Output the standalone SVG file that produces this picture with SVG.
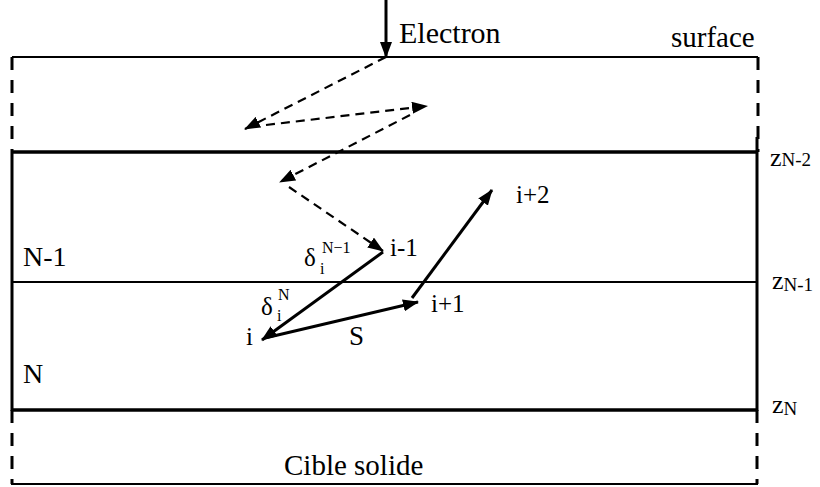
<svg xmlns="http://www.w3.org/2000/svg" width="820" height="487" viewBox="0 0 820 487">
<style>
.t{font-size:28px}
.s{font-size:25px}
.sup{font-size:16px}
.frame{fill:none;stroke:#000;stroke-linecap:butt}
.dash{stroke-dasharray:13 10}
.arr{fill:none;stroke:#000;stroke-width:3}
.darr{fill:none;stroke:#000;stroke-width:2.2;stroke-dasharray:9 6}
</style>
<defs>
<marker id="ah" markerUnits="userSpaceOnUse" markerWidth="16" markerHeight="12" refX="15" refY="6" orient="auto">
<path d="M0,0 L16,6 L0,12 z" fill="#000"/>
</marker>
</defs>
<rect width="820" height="487" fill="#fff"/>
<g id="layers">
<line class="frame" x1="12" y1="57" x2="758" y2="57" stroke-width="2"/>
<path class="frame dash" d="M12,57 V152" stroke-width="3"/>
<path class="frame dash" d="M758,57 V152" stroke-width="3"/>
<line class="frame" x1="11" y1="152" x2="758" y2="152" stroke-width="3.5"/>
<line class="frame" x1="12" y1="152" x2="12" y2="411" stroke-width="3"/>
<line class="frame" x1="757" y1="137" x2="757" y2="411" stroke-width="3"/>
<line class="frame" x1="12" y1="282" x2="757" y2="282" stroke-width="1.8"/>
<line class="frame" x1="11" y1="410" x2="758" y2="410" stroke-width="3.5"/>
<path class="frame dash" d="M12,410 V484" stroke-width="3"/>
<path class="frame dash" d="M757,410 V484" stroke-width="3"/>
<line class="frame" x1="11" y1="484" x2="758" y2="484" stroke-width="2"/>
</g>
<g id="connectors">
<line class="arr" x1="386" y1="0" x2="386" y2="57" marker-end="url(#ah)"/>
<line class="darr" x1="386" y1="57" x2="245" y2="129" marker-end="url(#ah)"/>
<line class="darr" x1="266" y1="125" x2="427" y2="106" marker-end="url(#ah)"/>
<line class="darr" x1="410" y1="115" x2="280" y2="182" marker-end="url(#ah)"/>
<line class="darr" x1="289" y1="187" x2="383" y2="251" marker-end="url(#ah)"/>
<line class="arr" x1="383" y1="252" x2="262" y2="340" marker-end="url(#ah)"/>
<line class="arr" x1="265" y1="338" x2="418" y2="302" marker-end="url(#ah)"/>
<line class="arr" x1="412" y1="298" x2="492" y2="190" marker-end="url(#ah)"/>
</g>
<g id="labels" font-family="'Liberation Serif', 'DejaVu Serif', serif" fill="#000">
<text x="399" y="43" font-size="30">Electron</text>
<text x="671" y="47" font-size="29">surface</text>
<text class="t" x="23" y="266">N-1</text>
<text class="t" x="23" y="383">N</text>
<text x="284" y="475" font-size="29">Cible solide</text>
<text x="770" y="166" font-size="26">z<tspan font-size="19">N-2</tspan></text>
<text x="772" y="289" font-size="26">z<tspan font-size="19" dy="2">N-1</tspan></text>
<text x="772" y="413" font-size="26">z<tspan font-size="19" dy="2">N</tspan></text>
<text class="s" x="516" y="203">i+2</text>
<text class="s" x="390" y="256">i-1</text>
<text class="s" x="431" y="312">i+1</text>
<text class="s" x="246" y="345">i</text>
<text x="349" y="345" font-size="27">S</text>
<text class="s" x="304" y="266">δ</text>
<text class="sup" x="322" y="253">N−1</text>
<text class="sup" x="320" y="274">i</text>
<text class="s" x="261" y="315">δ</text>
<text class="sup" x="278" y="300">N</text>
<text class="sup" x="277" y="321">i</text>
</g>
</svg>
